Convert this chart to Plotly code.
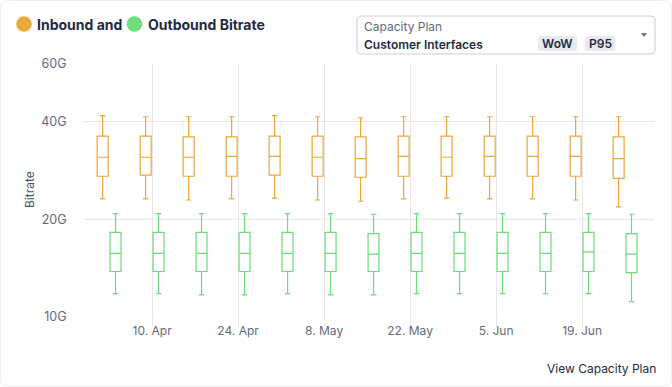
import plotly.graph_objects as go

# ---- data (Gbps) ----
weeks = ["2023-04-03", "2023-04-10", "2023-04-17", "2023-04-24", "2023-05-01",
         "2023-05-08", "2023-05-15", "2023-05-22", "2023-05-29", "2023-06-05",
         "2023-06-12", "2023-06-19", "2023-06-26"]

in_upper = [41.6, 41.3, 41.3, 41.3, 41.6, 41.3, 41.0, 41.3, 41.3, 41.3, 41.3, 41.3, 41.3]
in_q3    = [36.0, 36.0, 35.8, 35.8, 36.0, 36.0, 35.8, 36.0, 36.0, 36.0, 36.0, 36.0, 35.8]
in_med   = [31.0, 31.0, 31.0, 31.2, 31.2, 31.0, 30.7, 31.2, 31.0, 31.2, 31.2, 31.2, 30.7]
in_q1    = [27.1, 27.3, 27.1, 27.1, 27.3, 27.1, 26.9, 27.1, 27.1, 27.1, 27.1, 27.1, 26.7]
in_lower = [23.1, 23.1, 22.9, 23.1, 23.2, 22.9, 22.7, 23.1, 23.2, 23.1, 23.1, 22.9, 21.8]

out_upper = [20.8, 20.8, 20.8, 20.8, 20.8, 20.8, 20.7, 20.8, 20.8, 20.8, 20.8, 20.8, 20.7]
out_q3    = [18.2, 18.2, 18.2, 18.2, 18.2, 18.2, 18.05, 18.2, 18.2, 18.2, 18.2, 18.2, 18.05]
out_med   = [15.7, 15.7, 15.7, 15.7, 15.7, 15.7, 15.6, 15.7, 15.7, 15.7, 15.7, 15.85, 15.6]
out_q1    = [13.8, 13.8, 13.8, 13.8, 13.8, 13.8, 13.8, 13.8, 13.8, 13.8, 13.8, 13.8, 13.7]
out_lower = [11.8, 11.8, 11.7, 11.7, 11.8, 11.7, 11.7, 11.8, 11.8, 11.8, 11.8, 11.8, 11.15]

y_tickvals = [10, 20, 40, 60]
y_ticktext = ["10G", "20G", "40G", "60G"]
x_tickvals = ["2023-04-10", "2023-04-24", "2023-05-08", "2023-05-22", "2023-06-05", "2023-06-19"]
x_ticktext = ["10. Apr", "24. Apr", "8. May", "22. May", "5. Jun", "19. Jun"]

ORANGE = "#E9A73C"
GREEN = "#6FDC7B"
NAVY = "#1F2A44"
GREY_TXT = "#5F6B7B"
GRID = "#E6E6E6"
FONT = "Inter"

W, H = 672, 387
L, R, T, B = 83, 654, 64, 317   # plot area in px


def px(x):
    return (x - L) / (R - L)


def py(y):
    return (B - y) / (B - T)


def rrect(x0, y0, x1, y1, r):
    pts = [
        ("M", [(x0 + r, y0)]), ("L", [(x1 - r, y0)]), ("Q", [(x1, y0), (x1, y0 + r)]),
        ("L", [(x1, y1 - r)]), ("Q", [(x1, y1), (x1 - r, y1)]), ("L", [(x0 + r, y1)]),
        ("Q", [(x0, y1), (x0, y1 - r)]), ("L", [(x0, y0 + r)]), ("Q", [(x0, y0), (x0 + r, y0)]),
    ]
    s = ""
    for cmd, p in pts:
        s += cmd + " " + " ".join(f"{px(a):.5f},{py(b):.5f}" for a, b in p) + " "
    return s + "Z"


fig = go.Figure()
fig.add_trace(go.Box(
    x=weeks, q1=in_q1, median=in_med, q3=in_q3, lowerfence=in_lower, upperfence=in_upper,
    name="Inbound", line=dict(color=ORANGE, width=1.2), fillcolor="rgba(255,255,255,0)",
    boxpoints=False, whiskerwidth=0.5, hoverinfo="skip"))
fig.add_trace(go.Box(
    x=weeks, q1=out_q1, median=out_med, q3=out_q3, lowerfence=out_lower, upperfence=out_upper,
    name="Outbound", line=dict(color=GREEN, width=1.2), fillcolor="rgba(255,255,255,0)",
    boxpoints=False, whiskerwidth=0.5, hoverinfo="skip"))

shapes = []
annotations = []

# card border
shapes.append(dict(type="path", xref="paper", yref="paper", path=rrect(0.5, 0.5, W - 0.5, H - 0.5, 8),
                   line=dict(color="#EEEEEE", width=1), fillcolor="rgba(0,0,0,0)", layer="below"))

# title legend circles
for cx, col in [(24, ORANGE), (134.5, GREEN)]:
    shapes.append(dict(type="circle", xref="paper", yref="paper",
                       x0=px(cx - 7.8), x1=px(cx + 7.8), y0=py(24 - 7.8), y1=py(24 + 7.8),
                       fillcolor=col, line=dict(width=0)))
annotations.append(dict(xref="paper", yref="paper", x=px(35), y=py(24.5), xanchor="left", yanchor="middle",
                        text="Inbound and", showarrow=False,
                        font=dict(family=FONT, size=14, color=NAVY, weight=700)))
annotations.append(dict(xref="paper", yref="paper", x=px(145.5), y=py(24.5), xanchor="left", yanchor="middle",
                        text="Outbound Bitrate", showarrow=False,
                        font=dict(family=FONT, size=14, color=NAVY, weight=700)))

# dropdown
shapes.append(dict(type="path", xref="paper", yref="paper", path=rrect(357, 16, 655, 54, 4),
                   line=dict(color="#C9CED6", width=1), fillcolor="white"))
annotations.append(dict(xref="paper", yref="paper", x=px(362), y=py(27), xanchor="left", yanchor="middle",
                        text="Capacity Plan", showarrow=False,
                        font=dict(family=FONT, size=12, color=GREY_TXT)))
annotations.append(dict(xref="paper", yref="paper", x=px(362), y=py(44), xanchor="left", yanchor="middle",
                        text="Customer Interfaces", showarrow=False,
                        font=dict(family=FONT, size=12, color=NAVY, weight=600)))
for x0, x1, t in [(538, 577, "WoW"), (585, 615, "P95")]:
    shapes.append(dict(type="path", xref="paper", yref="paper", path=rrect(x0, 36, x1, 51, 3),
                       line=dict(width=0), fillcolor="#E8EAED"))
    annotations.append(dict(xref="paper", yref="paper", x=px((x0 + x1) / 2), y=py(43.8),
                            xanchor="center", yanchor="middle", text=t, showarrow=False,
                            font=dict(family=FONT, size=12, color=NAVY, weight=600)))
tri = f"M {px(641):.5f},{py(33):.5f} L {px(647):.5f},{py(33):.5f} L {px(644):.5f},{py(37):.5f} Z"
shapes.append(dict(type="path", xref="paper", yref="paper", path=tri,
                   line=dict(width=0), fillcolor="#6B7280"))

# y axis title
annotations.append(dict(xref="paper", yref="paper", x=px(29), y=py(190), xanchor="center", yanchor="middle",
                        text="Bitrate", textangle=-90, showarrow=False,
                        font=dict(family=FONT, size=12, color="#4A5568")))
# footer link
annotations.append(dict(xref="paper", yref="paper", x=px(658), y=py(368), xanchor="right", yanchor="middle",
                        text="View Capacity Plan", showarrow=False,
                        font=dict(family=FONT, size=12, color=NAVY)))

fig.update_layout(
    width=W, height=H,
    margin=dict(l=L, r=W - R, t=T, b=H - B, pad=0),
    paper_bgcolor="white", plot_bgcolor="white",
    boxmode="group", boxgap=0.4, boxgroupgap=0.15,
    showlegend=False,
    shapes=shapes, annotations=annotations,
    font=dict(family=FONT, size=12, color=GREY_TXT),
)
fig.update_xaxes(
    type="date", range=["2023-03-29 18:00", "2023-06-30 17:00"],
    tickvals=x_tickvals, ticktext=x_ticktext,
    showgrid=True, gridcolor=GRID, gridwidth=1,
    ticks="outside", ticklen=8, tickcolor=GRID, tickwidth=1,
    ticklabelstandoff=-5,
    showline=False, zeroline=False,
    tickfont=dict(family=FONT, size=12, color=GREY_TXT),
)
fig.update_yaxes(
    type="log", range=[1, 1.77815],
    tickvals=y_tickvals, ticktext=y_ticktext,
    showgrid=True, gridcolor=GRID, gridwidth=1,
    ticks="outside", ticklen=13, tickcolor="rgba(0,0,0,0)",
    showline=False, zeroline=False,
    tickfont=dict(family=FONT, size=12.5, color=GREY_TXT),
)

fig.write_html("out.html", config={"displayModeBar": False},
               post_script="document.body.style.margin='0';")
